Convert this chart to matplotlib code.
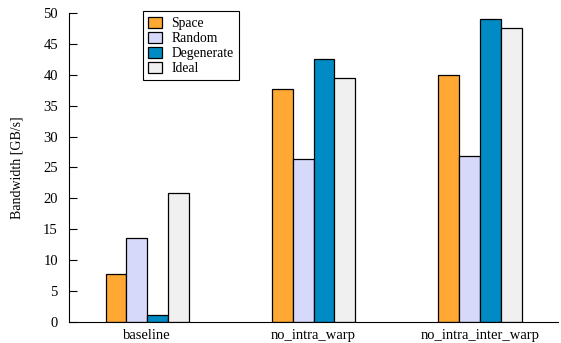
import numpy as np
from matplotlib import pyplot as plt

plt.rcParams['font.family'] = ['Liberation Serif', 'DejaVu Serif']
plt.rcParams['font.size'] = 10.5

configs = ['baseline', 'no_intra_warp', 'no_intra_inter_warp']
series = ['Space', 'Random', 'Degenerate', 'Ideal']
space = [7.7, 37.7, 40.0]
random_ = [13.6, 26.4, 26.9]
degenerate = [1.1, 42.6, 49.0]
ideal = [20.8, 39.4, 47.5]
colors = ['#ffa833', '#d6d9fa', '#008bc4', '#f0f0f0']

fig, ax = plt.subplots(figsize=(5.61, 3.43), dpi=100)
fig.subplots_adjust(left=0.123, right=0.995, top=0.962, bottom=0.062)

x = np.arange(len(configs))
w = 0.125
for i, (vals, name) in enumerate(zip([space, random_, degenerate, ideal], series)):
    ax.bar(x + (i - 1.5) * w, vals, w, color=colors[i], edgecolor='black',
           linewidth=0.9, label=name)

ax.set_xlim(-0.47, 2.47)
ax.set_ylim(0, 50)
ax.set_yticks(range(0, 51, 5))
ax.set_xticks(x)
ax.set_xticklabels(configs)
ax.tick_params(axis='y', direction='in', length=6, width=0.8, pad=8)
ax.tick_params(axis='x', length=0, pad=5)
ax.spines['top'].set_visible(False)
ax.spines['right'].set_visible(False)
ax.set_ylabel('Bandwidth [GB/s]', fontsize=10, labelpad=14)

leg = ax.legend(loc='upper left', bbox_to_anchor=(0.151, 1.005), borderaxespad=0,
                fancybox=False, edgecolor='black', framealpha=1, fontsize=9.8,
                handlelength=1.0, handleheight=0.85, handletextpad=0.7,
                labelspacing=0.13, borderpad=0.4)
leg.get_frame().set_linewidth(0.8)

plt.savefig('out.png', dpi=100)
